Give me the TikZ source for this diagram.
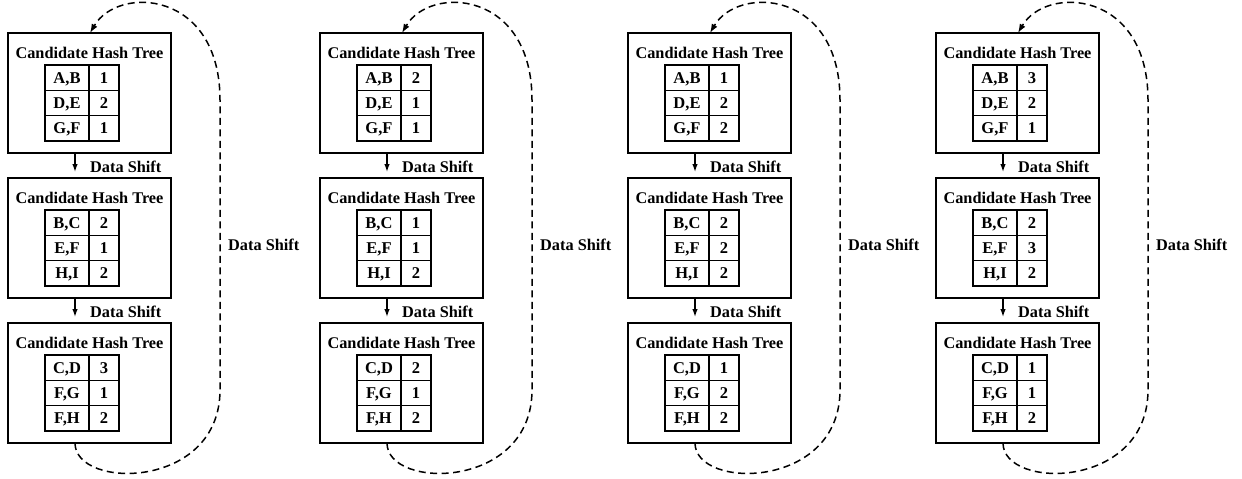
\documentclass[tikz,border=0pt]{standalone}
\usepackage{fontspec}
\setmainfont{Liberation Serif}
\usetikzlibrary{calc,arrows.meta}

\tikzset{
  treebox/.style={draw, line width=1.5pt, minimum width=163pt, minimum height=120pt,
    inner sep=0pt, outer sep=0pt, anchor=north west},
  treetitle/.style={font=\fontsize{16.3}{19}\selectfont\bfseries, inner sep=0pt},
  keycell/.style={draw, line width=1.4pt, minimum width=44pt, minimum height=25.3pt,
    inner sep=0pt, outer sep=0pt, anchor=north west,
    text height=11pt, text depth=0pt,
    font=\fontsize{16.5}{19}\selectfont\bfseries},
  valcell/.style={keycell, minimum width=30pt},
  shiftlabel/.style={font=\fontsize{16.3}{19}\selectfont\bfseries, inner sep=0pt, anchor=west},
  flow/.style={line width=1.3pt, -{Latex[length=8pt,width=5.5pt]}, shorten >=6pt},
  wrapback/.style={line width=1.5pt, dash pattern=on 7pt off 4.5pt,
    -{Latex[length=9pt,width=6.5pt]}},
}

% One candidate hash tree box: name, x, y, then three key/count pairs
\newcommand\hashbox[9]{%
  \node[treebox] (#1) at (#2,#3) {};
  \node[treetitle] (#1t) at ($(#1.north west)+(81.5,20)$) {Candidate Hash Tree};
  \node[keycell] (#1k1) at ($(#1.north west)+(37,32)$) {#4};
  \node[valcell] (#1v1) at (#1k1.north east) {#5};
  \node[keycell] (#1k2) at (#1k1.south west) {#6};
  \node[valcell] (#1v2) at (#1k2.north east) {#7};
  \node[keycell] (#1k3) at (#1k2.south west) {#8};
  \node[valcell] (#1v3) at (#1k3.north east) {#9};
  \coordinate (#1s) at ($(#1.south west)+(67,0)$);
  \coordinate (#1n) at ($(#1.north west)+(67,0)$);
  \coordinate (#1a) at ($(#1.north west)+(82,0)$);
}

\begin{document}
\begin{tikzpicture}[x=1pt,y=-1pt]
\useasboundingbox (0,0) rectangle (1242,479);

\foreach \c/\X/\numA/\numB/\numC/\numD/\numE/\numF/\numG/\numH/\numI in {
    p/8/1/2/1/2/1/2/3/1/2,
    q/320/2/1/1/1/1/2/2/1/2,
    r/628/1/2/2/2/2/2/1/2/2,
    s/936/3/2/1/2/3/2/1/1/2}{
  \hashbox{\c1}{\X}{33}{A,B}{\numA}{D,E}{\numB}{G,F}{\numC}
  \hashbox{\c2}{\X}{178}{B,C}{\numD}{E,F}{\numE}{H,I}{\numF}
  \hashbox{\c3}{\X}{323}{C,D}{\numG}{F,G}{\numH}{F,H}{\numI}

  % shifts between neighbouring trees
  \draw[flow] (\c1s) -- (\c2n);
  \node[shiftlabel] (\c1l) at ($(\c1.south west)+(82,14)$) {Data Shift};
  \draw[flow] (\c2s) -- (\c3n);
  \node[shiftlabel] (\c2l) at ($(\c2.south west)+(82,14)$) {Data Shift};

  % wrap-around shift from the last tree back to the first
  \draw[wrapback] (\c3s)
    .. controls ($(\c3.south west)+(67,47)$) and ($(\c3.south west)+(212,47)$)
    .. ($(\c3.south west)+(212,-53)$)
    -- ($(\c1.north west)+(212,67)$)
    .. controls ($(\c1.north west)+(212,-43)$) and ($(\c1.north west)+(110,-48)$)
    .. (\c1a);
  \node[shiftlabel] (\c w) at ($(\c2.north west)+(220,67)$) {Data Shift};
}
\end{tikzpicture}
\end{document}
